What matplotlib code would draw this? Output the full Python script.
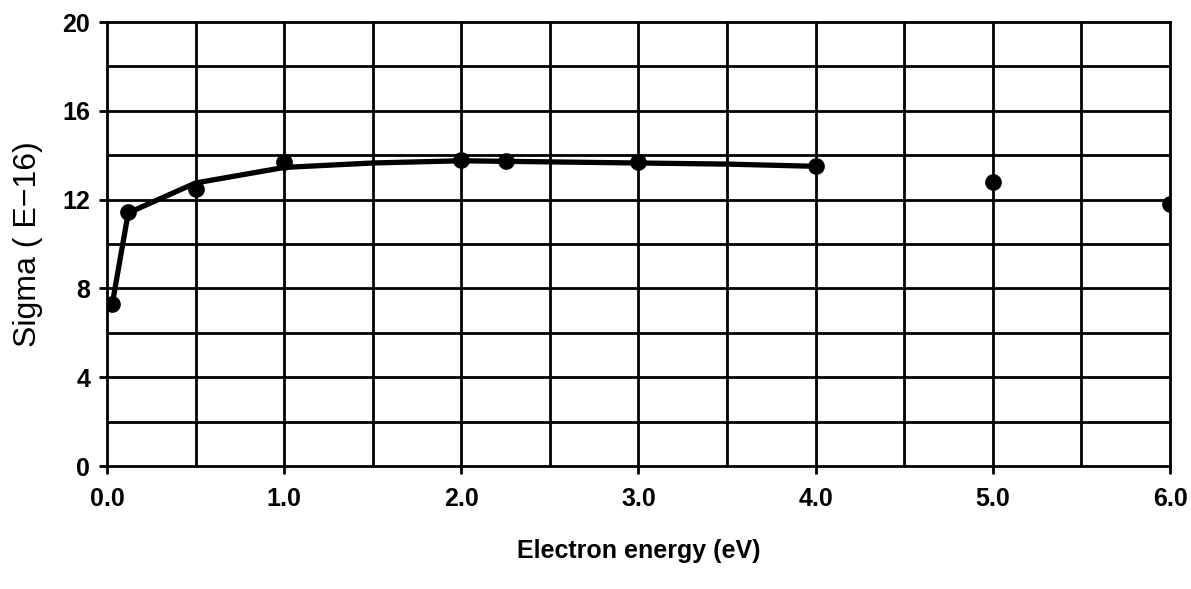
import numpy as np
import matplotlib
matplotlib.use("Agg")
import matplotlib.pyplot as plt

# measured points
energy = [0.03, 0.12, 0.5, 1.0, 2.0, 2.25, 3.0, 4.0, 5.0, 6.0]
sigma = [7.3, 11.45, 12.5, 13.7, 13.8, 13.75, 13.7, 13.5, 12.8, 11.8]

# drawn curve (only up to 4 eV)
curve_e = [0.03, 0.12, 0.5, 1.0, 1.5, 2.0, 2.5, 3.0, 3.5, 4.0]
curve_s = [7.3, 11.4, 12.75, 13.45, 13.65, 13.75, 13.7, 13.65, 13.6, 13.5]

xticks = [0, 1, 2, 3, 4, 5, 6]
xtick_labels = ["0.0", "1.0", "2.0", "3.0", "4.0", "5.0", "6.0"]
yticks = [0, 4, 8, 12, 16, 20]

plt.rcParams['font.family'] = ['Liberation Sans', 'DejaVu Sans']

fig = plt.figure(figsize=(11.91, 5.89), dpi=100)
ax = fig.add_axes([0.0898, 0.2088, 0.8926, 0.7538])

# grid
for gx in np.arange(0.5, 6.0, 0.5):
    ax.axvline(gx, color='black', lw=2.0, zorder=1)
for gy in np.arange(2, 20, 2):
    ax.axhline(gy, color='black', lw=2.0, zorder=1)

ax.plot(curve_e, curve_s, color='black', lw=3.8, zorder=3)
ax.plot(energy, sigma, 'o', color='black', ms=11, zorder=4)

ax.set_xlim(0, 6)
ax.set_ylim(0, 20)
ax.set_xticks(xticks)
ax.set_xticklabels(xtick_labels)
ax.set_yticks(yticks)
for sp in ax.spines.values():
    sp.set_linewidth(2.0)
ax.tick_params(axis='both', length=6, width=2.0, direction='out',
               labelsize=18)
ax.tick_params(axis='x', pad=9)
ax.tick_params(axis='y', pad=6)
for lab in ax.get_xticklabels() + ax.get_yticklabels():
    lab.set_fontweight('bold')

ax.set_xlabel("Electron energy (eV)", fontsize=18, fontweight='bold', labelpad=20)
ax.set_ylabel("Sigma ( E−16)", fontsize=23, labelpad=14)

fig.savefig("out.png", dpi=100)
